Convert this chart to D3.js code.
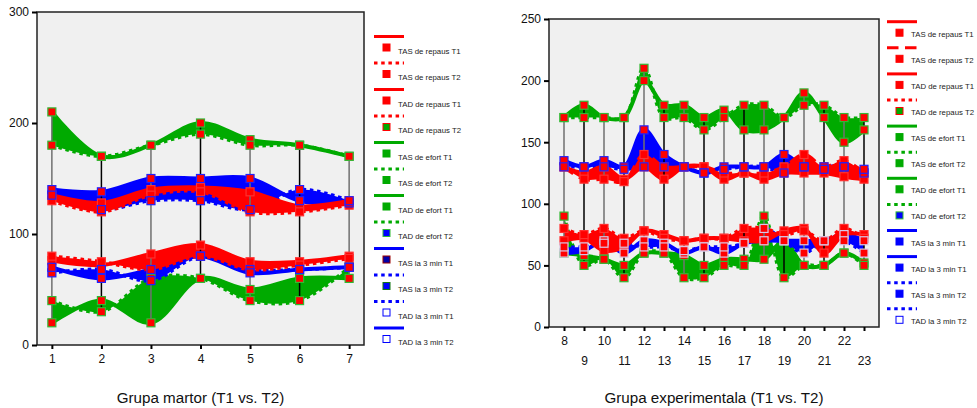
<!DOCTYPE html>
<html>
<head>
<meta charset="utf-8">
<script src="https://cdn.jsdelivr.net/npm/d3@7/dist/d3.min.js"></script>
<style>
  body { margin: 0; background: #fff; }
  svg { display: block; font-family: "Liberation Sans", Arial, sans-serif; }
</style>
</head>
<body>
<svg id="chart" width="977" height="408"></svg>
<script>
// ---- data: control group (1..7)
const leftX = [1, 2, 3, 4, 5, 6, 7];
const lTasRepausT1 = [135, 128, 140, 142, 138, 125, 130];
const lTasRepausT2 = [130, 120, 135, 138, 120, 120, 126];
const lTadRepausT1 = [76, 72, 82, 90, 75, 75, 80];
const lTadRepausT2 = [80, 75, 68, 80, 68, 72, 78];
const lTasEfortT1 = [210, 170, 180, 200, 185, 180, 170];
const lTasEfortT2 = [180, 170, 180, 190, 180, 180, 170];
const lTadEfortT1 = [20, 40, 20, 60, 50, 60, 60];
const lTadEfortT2 = [40, 30, 60, 60, 40, 40, 70];
const lTas3minT1 = [140, 138, 150, 150, 150, 130, 128];
const lTas3minT2 = [135, 122, 130, 130, 122, 140, 130];
const lTad3minT1 = [65, 68, 58, 80, 68, 68, 70];
const lTad3minT2 = [70, 60, 68, 80, 65, 68, 70];

// ---- data: experimental group (8..23)
const rightX = [8, 9, 10, 11, 12, 13, 14, 15, 16, 17, 18, 19, 20, 21, 22, 23];
const rTasRepausT1 = [130, 125, 130, 120, 130, 120, 130, 130, 120, 125, 120, 125, 125, 125, 122, 120];
const rTasRepausT2 = [130, 120, 120, 118, 140, 130, 130, 130, 125, 125, 125, 130, 140, 130, 135, 125];
const rTadRepausT1 = [70, 72, 62, 65, 78, 75, 70, 72, 72, 70, 70, 78, 80, 60, 75, 75];
const rTadRepausT2 = [80, 75, 80, 72, 78, 72, 70, 72, 72, 80, 80, 75, 78, 70, 80, 72];
const rTasEfortT1 = [170, 180, 170, 170, 200, 180, 180, 170, 176, 160, 160, 170, 190, 170, 150, 160];
const rTasEfortT2 = [170, 170, 170, 170, 210, 170, 170, 160, 170, 180, 180, 170, 180, 180, 170, 170];
const rTadEfortT1 = [60, 58, 55, 50, 60, 60, 58, 50, 55, 55, 55, 70, 50, 50, 60, 52];
const rTadEfortT2 = [90, 50, 55, 40, 60, 60, 40, 40, 50, 50, 90, 40, 50, 50, 60, 50];
const rTas3minT1 = [135, 130, 135, 130, 160, 140, 130, 125, 130, 130, 130, 140, 130, 130, 130, 125];
const rTas3minT2 = [130, 130, 130, 128, 130, 130, 130, 125, 128, 130, 130, 125, 130, 128, 130, 128];
const rTad3minT1 = [60, 62, 70, 60, 70, 68, 60, 65, 60, 68, 70, 70, 70, 70, 75, 70];
const rTad3minT2 = [65, 65, 68, 68, 65, 65, 62, 65, 65, 68, 80, 70, 60, 70, 70, 60];

const leftYTicks = [0, 100, 200, 300];
const rightYTicks = [0, 50, 100, 150, 200, 250];

const leftLegend = ['TAS de repaus T1', 'TAS de repaus T2', 'TAD de repaus T1', 'TAD de repaus T2',
    'TAS de efort T1', 'TAS de efort T2', 'TAD de efort T1', 'TAD de efort T2',
    'TAS la 3 min T1', 'TAS la 3 min T2', 'TAD la 3 min T1', 'TAD la 3 min T2'];
const rightLegend = ['TAS de repaus T1', 'TAS de repaus T2', 'TAD de repaus T1', 'TAD de repaus T2',
    'TAS de efort T1', 'TAS de efort T2', 'TAD de efort T1', 'TAD de efort T2',
    'TAS la 3 min T1', 'TAD la 3 min T1', 'TAS la 3 min T2', 'TAD la 3 min T2'];

const RED = '#ff0000', GREEN = '#00aa00', BLUE = '#0000ff';
const DOT = '3.5,3.7', DASH = '11.5,6.5';

// style per series: line colour, dash, legend marker fill / border, marker border in plot
const leftStyle = {
    'TAS de repaus T1': [RED, null, RED, RED, '#ff3030'],
    'TAS de repaus T2': [RED, DOT, RED, RED, '#ff3030'],
    'TAD de repaus T1': [RED, null, RED, RED, '#ff3030'],
    'TAD de repaus T2': [RED, DOT, GREEN, RED, '#ff3030'],
    'TAS de efort T1': [GREEN, null, GREEN, GREEN, '#33b833'],
    'TAS de efort T2': [GREEN, DOT, GREEN, GREEN, '#33b833'],
    'TAD de efort T1': [GREEN, null, GREEN, GREEN, '#33b833'],
    'TAD de efort T2': [GREEN, DOT, BLUE, '#33bb33', '#33b833'],
    'TAS la 3 min T1': [BLUE, null, '#0000aa', '#990000', '#2020ff'],
    'TAS la 3 min T2': [BLUE, DOT, BLUE, '#117711', '#2020ff'],
    'TAD la 3 min T1': [BLUE, DOT, '#fff', BLUE, '#2020ff'],
    'TAD la 3 min T2': [BLUE, null, '#fff', BLUE, '#2020ff'],
};
const rightStyle = {
    'TAS de repaus T1': [RED, null, RED, RED, '#ff3030'],
    'TAS de repaus T2': [RED, DASH, RED, RED, '#ff3030'],
    'TAD de repaus T1': [RED, null, RED, RED, '#ff3030'],
    'TAD de repaus T2': [RED, DOT, GREEN, RED, '#ff3030'],
    'TAS de efort T1': [GREEN, null, GREEN, GREEN, '#33b833'],
    'TAS de efort T2': [GREEN, DOT, GREEN, GREEN, '#33b833'],
    'TAD de efort T1': [GREEN, null, GREEN, GREEN, '#33b833'],
    'TAD de efort T2': [GREEN, DOT, BLUE, '#33bb33', '#33b833'],
    'TAS la 3 min T1': [BLUE, null, BLUE, BLUE, '#2020ff'],
    'TAD la 3 min T1': [BLUE, null, BLUE, BLUE, '#d8c8e8'],
    'TAS la 3 min T2': [BLUE, DOT, BLUE, BLUE, '#2020ff'],
    'TAD la 3 min T2': [BLUE, DOT, '#fff', BLUE, '#d8c8e8'],
};

const leftSeries = {
    'TAS de repaus T1': lTasRepausT1, 'TAS de repaus T2': lTasRepausT2,
    'TAD de repaus T1': lTadRepausT1, 'TAD de repaus T2': lTadRepausT2,
    'TAS de efort T1': lTasEfortT1, 'TAS de efort T2': lTasEfortT2,
    'TAD de efort T1': lTadEfortT1, 'TAD de efort T2': lTadEfortT2,
    'TAS la 3 min T1': lTas3minT1, 'TAS la 3 min T2': lTas3minT2,
    'TAD la 3 min T1': lTad3minT1, 'TAD la 3 min T2': lTad3minT2,
};
const rightSeries = {
    'TAS de repaus T1': rTasRepausT1, 'TAS de repaus T2': rTasRepausT2,
    'TAD de repaus T1': rTadRepausT1, 'TAD de repaus T2': rTadRepausT2,
    'TAS de efort T1': rTasEfortT1, 'TAS de efort T2': rTasEfortT2,
    'TAD de efort T1': rTadEfortT1, 'TAD de efort T2': rTadEfortT2,
    'TAS la 3 min T1': rTas3minT1, 'TAS la 3 min T2': rTas3minT2,
    'TAD la 3 min T1': rTad3minT1, 'TAD la 3 min T2': rTad3minT2,
};

// T1 / T2 pairs filled as difference areas, back to front
const pairs = [
    ['TAS de efort', GREEN], ['TAD de efort', GREEN],
    ['TAS la 3 min', BLUE], ['TAD la 3 min', BLUE],
    ['TAS de repaus', RED], ['TAD de repaus', RED],
];

const svg = d3.select('#chart');

function drawChart(cfg) {
    const { xs, series, style, legend, xDomain, yMax, yTicks, left, right, top, bottom, title, stagger, lg } = cfg;
    const x = d3.scaleLinear().domain(xDomain).range([left, right]);
    const y = d3.scaleLinear().domain([0, yMax]).range([bottom, top]);

    const root = svg.append('g');
    const clipId = 'clip' + left;
    root.append('clipPath').attr('id', clipId)
        .append('rect').attr('x', left).attr('y', top).attr('width', right - left).attr('height', bottom - top);

    root.append('rect')
        .attr('x', left).attr('y', top).attr('width', right - left).attr('height', bottom - top)
        .attr('fill', '#f0f0f0');

    const plot = root.append('g').attr('clip-path', `url(#${clipId})`);
    const curve = d3.curveCatmullRom.alpha(0.5);

    pairs.forEach(([group, color]) => {
        const a = series[group + ' T1'], b = series[group + ' T2'];
        const area = d3.area()
            .x((_, i) => x(xs[i]))
            .y0((_, i) => y(a[i]))
            .y1((_, i) => y(b[i]))
            .curve(curve);
        plot.append('path').attr('d', area(xs)).attr('fill', color);

        [group + ' T1', group + ' T2'].forEach(name => {
            const [c, dash] = style[name];
            const line = d3.line().x((_, i) => x(xs[i])).y(d => y(d)).curve(curve);
            plot.append('path')
                .attr('d', line(series[name]))
                .attr('fill', 'none')
                .attr('stroke', c)
                .attr('stroke-width', dash ? 3.5 : 4)
                .attr('stroke-dasharray', dash);
        });
    });

    // high-low lines
    const names = Object.keys(series);
    plot.selectAll('.hl').data(xs).join('line')
        .attr('x1', d => x(d)).attr('x2', d => x(d))
        .attr('y1', (_, i) => y(d3.max(names, n => series[n][i])))
        .attr('y2', (_, i) => y(d3.min(names, n => series[n][i])))
        .attr('stroke', (_, i) => (i % 2 ? '#000' : '#707070'))
        .attr('stroke-width', 1.5);

    // markers
    names.forEach(name => {
        plot.append('g').selectAll('rect').data(series[name]).join('rect')
            .attr('x', (_, i) => x(xs[i]) - 4)
            .attr('y', d => y(d) - 4)
            .attr('width', 8).attr('height', 8)
            .attr('fill', RED)
            .attr('stroke', style[name][4])
            .attr('stroke-width', 1.2);
    });

    root.append('rect')
        .attr('x', left).attr('y', top).attr('width', right - left).attr('height', bottom - top)
        .attr('fill', 'none').attr('stroke', '#222').attr('stroke-width', 1.5);

    const yAxis = root.append('g')
        .attr('transform', `translate(${left},0)`)
        .call(d3.axisLeft(y).tickValues(yTicks).tickSize(5).tickPadding(3));
    yAxis.select('.domain').remove();
    yAxis.selectAll('line').attr('stroke-width', 2);
    yAxis.selectAll('text').attr('font-size', 12).attr('fill', '#111').attr('font-family', null);

    const xAxis = root.append('g')
        .attr('transform', `translate(0,${bottom})`)
        .call(d3.axisBottom(x).tickValues(xs).tickFormat(d3.format('d')).tickSize(4).tickPadding(5.5));
    xAxis.select('.domain').remove();
    xAxis.selectAll('line').attr('stroke-width', 2);
    xAxis.selectAll('text').attr('font-size', 12).attr('fill', '#111').attr('font-family', null)
        .attr('y', (d, i) => (stagger && i % 2 ? 29.5 : 9.5));

    root.append('text')
        .attr('x', (left + right) / 2).attr('y', 403)
        .attr('text-anchor', 'middle').attr('font-size', 15.2).attr('fill', '#111')
        .text(title);

    // legend
    const items = root.append('g').selectAll('g').data(legend).join('g')
        .attr('transform', (_, i) => `translate(${lg.x},${lg.y + i * lg.step})`);
    items.append('line')
        .attr('x1', 0).attr('x2', 30)
        .attr('stroke', d => style[d][0])
        .attr('stroke-width', 3)
        .attr('stroke-dasharray', d => style[d][1]);
    items.append('rect')
        .attr('x', 12.5 - 3.5).attr('y', 11 - 3.5)
        .attr('width', 7).attr('height', 7)
        .attr('fill', d => style[d][2])
        .attr('stroke', d => style[d][3])
        .attr('stroke-width', 1);
    items.append('text')
        .attr('x', 24).attr('y', lg.text)
        .attr('font-size', 7.8).attr('fill', '#222')
        .text(d => d);
}

drawChart({
    xs: leftX, series: leftSeries, style: leftStyle, legend: leftLegend,
    xDomain: [0.7, 7.3], yMax: 300, yTicks: leftYTicks,
    left: 37, right: 364, top: 12, bottom: 345,
    title: 'Grupa martor (T1 vs. T2)', stagger: false,
    lg: { x: 374, y: 36.5, step: 26.5, text: 17 },
});

drawChart({
    xs: rightX, series: rightSeries, style: rightStyle, legend: rightLegend,
    xDomain: [7.25, 23.75], yMax: 250, yTicks: rightYTicks,
    left: 549, right: 879, top: 19, bottom: 327,
    title: 'Grupa experimentala (T1 vs. T2)', stagger: true,
    lg: { x: 887, y: 21.7, step: 26.1, text: 15 },
});
</script>
</body>
</html>
